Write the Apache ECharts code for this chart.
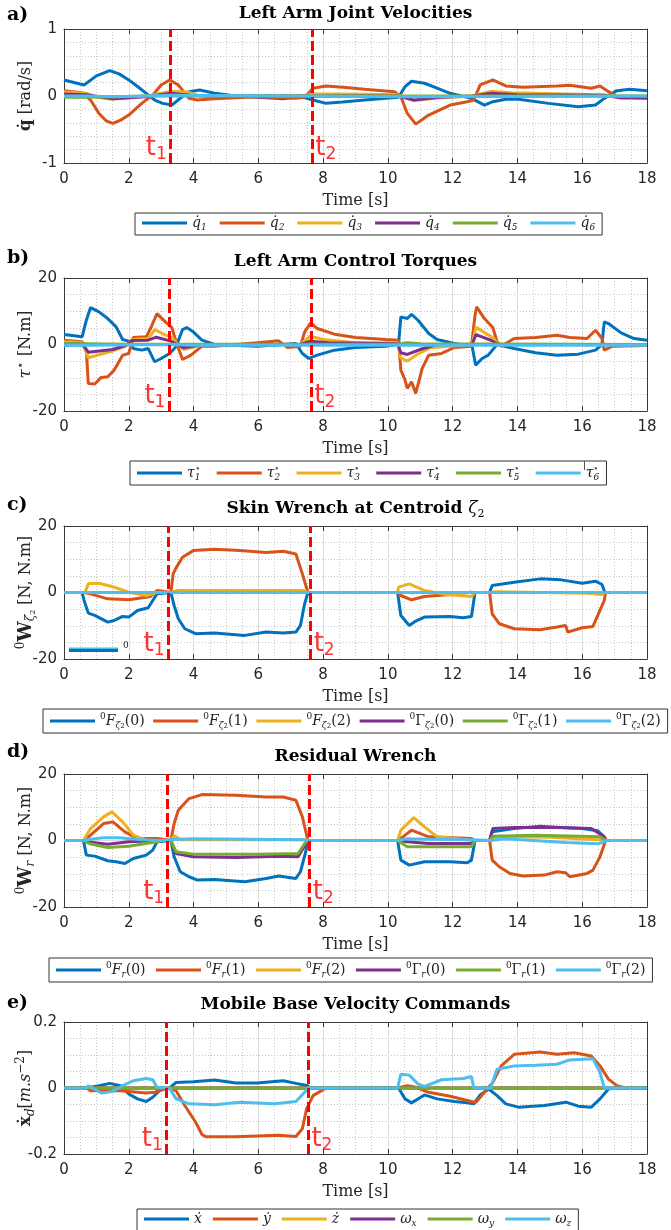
<!DOCTYPE html>
<html><head><meta charset="utf-8">
<script src="https://cdn.jsdelivr.net/npm/echarts@6/dist/echarts.min.js"></script>
<style>html,body{margin:0;padding:0;background:#fff}#c{width:671px;height:1230px}</style>
</head><body><div id="c"></div>
<script>
// ---------- tick labels ----------
const tTicks = [0,2,4,6,8,10,12,14,16,18];
const yTicksA = [-1,0,1];
const yTicksB = [-20,0,20];
const yTicksC = [-20,0,20];
const yTicksD = [-20,0,20];
const yTicksE = [-0.2,0,0.2];
// event times (t1, t2) per panel
const eventsA = [3.28,7.65];
const eventsB = [3.24,7.62];
const eventsC = [3.21,7.60];
const eventsD = [3.20,7.57];
const eventsE = [3.16,7.53];

// ---------- a) joint velocities [t, value] ----------
const aQ1 = [[0,0.24],[0.62,0.165],[1.0,0.3],[1.41,0.38],[1.7,0.33],[2.0,0.24],[2.3,0.13],[2.54,0.04],[2.8,-0.06],[3.05,-0.11],[3.33,-0.135],[3.6,-0.03],[3.86,0.065],[4.19,0.09],[4.65,0.04],[5.3,0],[5.97,-0.02],[6.77,-0.04],[7.3,-0.01],[7.69,-0.06],[8.09,-0.11],[8.6,-0.09],[9.28,-0.06],[10.33,-0.02],[10.53,0.14],[10.73,0.22],[11.13,0.19],[11.5,0.12],[11.92,0.04],[12.58,-0.035],[12.98,-0.135],[13.24,-0.085],[13.64,-0.05],[14.03,-0.05],[14.96,-0.11],[15.88,-0.16],[16.41,-0.135],[16.68,-0.035],[17.07,0.08],[17.47,0.1],[18,0.08]];
const aQ2 = [[0,0.08],[0.56,0.05],[0.82,-0.06],[1.08,-0.26],[1.3,-0.37],[1.51,-0.41],[1.75,-0.36],[2.0,-0.285],[2.4,-0.11],[2.74,0.015],[3.0,0.165],[3.26,0.24],[3.53,0.165],[3.86,-0.035],[4.12,-0.06],[4.65,-0.04],[5.97,-0.01],[7.16,-0.035],[7.43,-0.02],[7.69,0.115],[8.09,0.15],[8.62,0.13],[9.28,0.1],[10.2,0.065],[10.4,-0.01],[10.6,-0.26],[10.86,-0.42],[11.26,-0.285],[11.92,-0.135],[12.45,-0.085],[12.65,-0.06],[12.85,0.165],[13.24,0.24],[13.64,0.15],[14.17,0.13],[15.22,0.15],[15.62,0.16],[16.28,0.115],[16.55,0.15],[16.81,0.065],[17.07,-0.01],[18,-0.035]];
const aQ3 = [[0,0.06],[0.7,0.04],[1.0,-0.02],[1.5,-0.05],[2.0,-0.03],[2.7,0.01],[3.3,0.07],[3.8,0.06],[4.2,0.0],[7.3,0.0],[7.7,0.03],[8.5,0.03],[10.3,0.02],[10.8,-0.07],[11.5,-0.03],[12.6,0.0],[13.2,0.07],[13.8,0.05],[16.5,0.02],[17,0],[18,-0.01]];
const aQ4 = [[0,0.03],[0.7,0.02],[1.5,-0.04],[2.5,-0.01],[3.3,0.04],[3.9,0.01],[4.5,0],[10.3,0],[10.8,-0.06],[11.6,-0.02],[12.6,0],[13.2,0.04],[14,0.02],[16.7,0.01],[17.2,-0.03],[18,-0.03]];
const aQ5 = [[0,-0.02],[0.7,-0.02],[1.5,-0.01],[3,0],[18,0]];
const aQ6 = [[0,0],[0.7,0],[1.5,-0.01],[3.3,0.01],[10.8,-0.01],[18,0]];

// ---------- b) control torques ----------
const bT1 = [[0,3.0],[0.56,2.3],[0.69,7.3],[0.82,11.1],[1.08,9.8],[1.35,7.8],[1.61,5.3],[1.81,1.5],[2.0,1.0],[2.14,-1.2],[2.4,-1.7],[2.6,-1.2],[2.8,-5.2],[3.0,-4.2],[3.26,-2.7],[3.46,-0.7],[3.66,4.5],[3.79,5.1],[3.99,3.8],[4.26,1.3],[4.65,0],[5.97,-0.5],[7.16,0.3],[7.36,-2.7],[7.56,-4.2],[7.82,-3.2],[8.35,-1.7],[9.0,-0.9],[9.94,-0.5],[10.33,0.1],[10.4,8.3],[10.6,7.8],[10.73,9.1],[10.93,7.3],[11.26,3.3],[11.52,1.5],[12.05,0.3],[12.6,-0.5],[12.71,-6.2],[12.91,-4.2],[13.1,-3.2],[13.37,0],[13.9,-1.2],[14.56,-2.5],[15.22,-3.2],[15.88,-2.9],[16.41,-1.7],[16.61,0],[16.68,6.8],[16.81,6.3],[17.2,3.5],[17.6,1.8],[18,1.3]];
const bT2 = [[0,1.3],[0.56,0.8],[0.69,-1.7],[0.75,-11.7],[0.95,-11.9],[1.15,-9.9],[1.35,-9.7],[1.55,-7.7],[1.81,-3.2],[2.0,-2.7],[2.14,2.1],[2.54,2.3],[2.67,4.8],[2.87,9.3],[3.13,6.8],[3.33,5.1],[3.46,0.8],[3.66,-4.5],[3.92,-3.2],[4.26,-0.5],[4.65,-0.5],[5.97,0.5],[6.63,1.1],[6.9,-0.9],[7.3,-0.5],[7.43,3.8],[7.62,6.5],[7.82,4.8],[8.35,3.1],[9.0,2.1],[9.94,1.5],[10.33,1.3],[10.4,-7.7],[10.53,-10.7],[10.6,-13.2],[10.73,-11.2],[10.86,-14.7],[11.06,-7.2],[11.26,-3.2],[11.66,-2.7],[12.05,-0.9],[12.58,-0.5],[12.69,8.8],[12.74,11.3],[12.98,7.8],[13.24,5.1],[13.37,0.8],[13.5,-0.5],[13.9,1.8],[14.56,2.1],[15.22,2.8],[15.62,2.1],[16.15,1.8],[16.41,4.3],[16.61,1.8],[16.68,-1.7],[16.94,-0.5],[18,-0.3]];
const bT3 = [[0,0.8],[0.56,0.6],[0.75,-4.0],[1.1,-3.0],[1.5,-2.0],[1.9,-0.5],[2.1,1.5],[2.6,1.8],[2.8,4.5],[3.1,3.0],[3.35,2.0],[3.5,0],[3.7,-1.5],[4.3,0],[7.3,0],[7.6,2.5],[8,1.5],[9,0.5],[10.3,0.5],[10.4,-4],[10.6,-5],[10.9,-3],[11.3,-1],[12.6,0],[12.72,5.2],[13.0,3.5],[13.25,2],[13.4,0],[16.7,0],[18,0]];
const bT4 = [[0,0.2],[0.56,0.2],[0.75,-2.3],[1.5,-1.5],[1.9,-0.3],[2.1,1.2],[2.6,1.3],[2.85,2.2],[3.3,1.0],[3.5,0],[3.7,-1],[4.3,0],[7.3,0],[7.6,1.0],[8.2,0.5],[10.3,0.2],[10.4,-2.5],[10.6,-3],[11,-1.5],[11.5,0],[12.6,0],[12.72,3],[13.2,1.2],[13.4,0],[18,0]];
const bT5 = [[0,0.3],[2,0.1],[10.3,0.1],[10.6,0.5],[11,0.2],[18,0]];
const bT6 = [[0,-0.3],[3.3,0],[4,-0.2],[18,-0.2]];

// ---------- c) skin wrench ----------
const cF0 = [[0,0],[0.56,0],[0.62,-2.4],[0.75,-6.2],[0.95,-6.9],[1.35,-8.9],[1.55,-8.4],[1.81,-7.2],[2.0,-7.4],[2.27,-5.4],[2.6,-4.6],[2.74,-2.4],[2.87,-0.4],[2.93,0],[3.3,0],[3.4,-3.9],[3.53,-7.9],[3.73,-10.9],[4.06,-12.4],[4.65,-12.2],[5.58,-12.9],[6.24,-11.9],[6.77,-12.2],[7.16,-11.9],[7.3,-9.9],[7.43,-3.4],[7.53,0],[10.3,0],[10.4,-6.9],[10.66,-9.9],[10.86,-8.6],[11.13,-7.4],[11.92,-7.2],[12.32,-7.6],[12.58,-7.2],[12.69,0],[13.14,0],[13.22,2.1],[13.9,3.1],[14.7,4.1],[15.35,3.8],[16.0,2.8],[16.41,3.4],[16.61,2.4],[16.7,0],[18,0]];
const cF1 = [[0,0],[0.6,0],[0.82,-0.4],[1.35,-1.9],[2.0,-2.2],[2.67,-1.2],[2.87,0.6],[2.93,0],[3.3,0],[3.37,5.6],[3.46,7.4],[3.66,10.6],[3.99,12.6],[4.65,13.0],[5.44,12.6],[6.24,12.0],[6.77,12.4],[7.16,11.6],[7.36,5.6],[7.53,0],[10.3,0],[10.4,-0.9],[10.73,-2.2],[11.13,-1.2],[11.92,-0.6],[12.58,0.1],[12.69,0],[13.14,0],[13.22,-6.4],[13.44,-9.4],[13.9,-10.9],[14.7,-11.2],[15.22,-10.4],[15.49,-9.9],[15.55,-11.9],[16.0,-10.6],[16.33,-10.2],[16.48,-6.9],[16.68,-2.4],[16.72,0],[18,0]];
const cF2 = [[0,0],[0.65,0],[0.75,2.6],[1.08,2.8],[1.48,1.8],[2.0,0.1],[2.54,-0.9],[2.87,0],[3.3,0],[3.5,0.6],[7.4,0.6],[7.53,0],[10.3,0],[10.33,1.6],[10.66,2.6],[11.13,0.6],[11.79,-0.6],[12.58,-1.2],[12.69,0],[13.2,0],[13.3,0.2],[16.2,-0.2],[16.6,-0.6],[16.7,0],[18,0]];
const cG0 = [[0,0],[18,0]];
const cG1 = [[0,0],[18,0]];
const cG2 = [[0,0],[18,0]];

// ---------- d) residual wrench ----------
const dF0 = [[0,0],[0.6,0],[0.69,-4.4],[0.95,-4.7],[1.35,-6.1],[1.61,-6.4],[1.88,-6.9],[2.14,-5.4],[2.54,-4.4],[2.74,-2.9],[2.87,-0.4],[2.93,0],[3.3,0],[3.4,-4.9],[3.59,-9.4],[3.86,-10.9],[4.12,-11.9],[4.65,-11.7],[5.58,-12.4],[6.24,-11.4],[6.63,-10.7],[7.16,-11.4],[7.3,-9.4],[7.45,-3.9],[7.53,0],[10.3,0],[10.4,-5.9],[10.66,-7.4],[11.13,-6.4],[11.92,-6.4],[12.45,-6.7],[12.58,-5.9],[12.69,0],[13.14,0],[13.22,2.6],[13.9,3.6],[14.7,4.3],[15.35,3.9],[16.0,3.6],[16.48,2.9],[16.68,1.1],[16.74,0],[18,0]];
const dF1 = [[0,0],[0.6,0],[0.82,1.6],[1.22,5.1],[1.51,5.6],[1.88,2.6],[2.27,0.6],[2.87,0.6],[2.93,0],[3.3,0],[3.4,5.1],[3.53,9.1],[3.86,12.6],[4.26,13.8],[5.31,13.6],[6.24,13.1],[6.77,13.1],[7.16,12.1],[7.36,7.1],[7.53,0],[10.3,0],[10.53,1.6],[10.73,3.1],[11.26,1.1],[12.58,0.6],[12.69,0],[13.14,0],[13.22,-5.9],[13.44,-7.9],[13.77,-9.9],[14.17,-10.7],[14.83,-10.4],[15.22,-9.4],[15.49,-9.7],[15.62,-10.9],[16.15,-9.9],[16.33,-8.9],[16.55,-4.9],[16.72,0],[18,0]];
const dF2 = [[0,0],[0.6,0],[0.82,3.6],[1.22,7.1],[1.48,8.6],[1.81,5.6],[2.14,1.6],[2.54,0.1],[2.9,0],[3.3,0],[3.4,1.5],[3.46,2.0],[3.6,0.2],[7.4,0.2],[7.53,0],[10.3,0],[10.4,3.1],[10.8,6.9],[11.13,4.1],[11.52,1.1],[12.58,0.1],[12.69,0],[13.2,0],[13.3,1.2],[15,1.0],[16.5,0.2],[16.7,0],[18,0]];
const dG0 = [[0,0],[0.6,0],[0.69,-0.4],[1.35,-1.1],[2.0,-0.4],[2.87,0],[3.3,0],[3.46,-3.9],[3.99,-4.9],[5.31,-5.1],[6.63,-4.7],[7.23,-4.9],[7.4,-2],[7.53,0],[10.3,0],[10.6,-0.4],[11.26,-0.9],[12.58,-0.9],[12.69,0],[13.14,0],[13.24,3.6],[13.9,3.9],[15.22,3.9],[16.28,3.6],[16.68,1.1],[16.74,0],[18,0]];
const dG1 = [[0,0],[0.6,0],[0.8,-1.0],[1.35,-2.1],[2.0,-1.7],[2.87,-0.4],[3.0,0],[3.3,0],[3.46,-3.4],[3.99,-4.1],[5.97,-4.1],[7.23,-3.9],[7.43,-0.9],[7.53,0],[10.3,0],[10.6,-1.9],[12.58,-1.9],[12.69,0],[13.14,0],[13.24,1.3],[14.56,1.6],[16.55,1.1],[16.74,0],[18,0]];
const dG2 = [[0,0],[0.6,0.1],[1.2,0.8],[1.7,0.8],[2.3,0.3],[3.0,0],[3.4,0.3],[4,0.5],[7.4,0.2],[7.6,0],[10.3,0],[10.6,0.5],[11.2,0.4],[12.6,0.2],[13.2,0],[13.6,0.5],[14.5,0],[15.5,-0.6],[16.5,-1.0],[16.75,0],[18,0]];

// ---------- e) mobile base velocity commands ----------
const eXd = [[0,0],[0.7,0],[1.08,0.007],[1.41,0.014],[1.74,0.007],[2.0,-0.018],[2.27,-0.033],[2.54,-0.041],[2.74,-0.028],[3.0,-0.003],[3.26,0],[3.46,0.017],[3.99,0.019],[4.65,0.024],[5.31,0.015],[5.97,0.015],[6.77,0.022],[7.16,0.014],[7.53,0.007],[7.6,0],[10.33,0],[10.53,-0.033],[10.73,-0.045],[11.13,-0.021],[11.52,-0.033],[12.05,-0.041],[12.45,-0.045],[12.65,-0.048],[12.85,-0.021],[13.11,-0.003],[13.37,-0.023],[13.64,-0.048],[14.03,-0.058],[14.83,-0.053],[15.49,-0.043],[15.88,-0.055],[16.28,-0.058],[16.55,-0.033],[16.81,-0.003],[17,0],[18,0]];
const eYd = [[0,0],[0.7,0],[0.82,-0.008],[1.74,-0.008],[2.54,-0.015],[2.8,-0.013],[3.2,0],[3.46,-0.008],[3.73,-0.053],[4.06,-0.103],[4.26,-0.141],[4.39,-0.148],[5.31,-0.148],[6.63,-0.143],[7.16,-0.147],[7.36,-0.123],[7.49,-0.063],[7.69,-0.023],[8.09,0],[10.3,0],[10.6,0.007],[10.86,0.002],[11.26,-0.013],[11.92,-0.025],[12.58,-0.041],[12.72,-0.043],[12.98,-0.013],[13.24,0.017],[13.5,0.067],[13.9,0.102],[14.7,0.109],[15.22,0.102],[15.75,0.107],[16.28,0.097],[16.55,0.067],[16.81,0.027],[17.07,0.007],[17.34,0],[18,0]];
const eZd = [[0,0],[18,0]];
const eWx = [[0,0],[18,0]];
const eWy = [[0,0],[18,0]];
const eWz = [[0,0],[0.7,0],[0.75,0.007],[1.15,-0.015],[1.48,-0.011],[1.81,0.007],[2.14,0.022],[2.54,0.029],[2.74,0.025],[2.87,0.002],[3.26,0],[3.46,-0.033],[3.86,-0.048],[4.65,-0.051],[5.44,-0.043],[6.5,-0.048],[7.16,-0.041],[7.43,-0.013],[7.53,0],[10.3,0],[10.4,0.042],[10.66,0.039],[10.93,0.012],[11.13,0.005],[11.66,0.025],[12.32,0.029],[12.58,0.035],[12.65,0],[13.17,0],[13.37,0.057],[13.9,0.067],[14.56,0.069],[15.22,0.072],[15.62,0.085],[16.0,0.087],[16.33,0.089],[16.55,0.047],[16.68,0],[18,0]];

// ---------- legend labels (rich text) ----------
const legA = ['{i|q\u0307}{s|1}','{i|q\u0307}{s|2}','{i|q\u0307}{s|3}','{i|q\u0307}{s|4}','{i|q\u0307}{s|5}','{i|q\u0307}{s|6}'];
const legB = [1,2,3,4,5,6].map(k=>'{i|τ}{p0|⋆}{s|'+k+'}');
const legC = ['{p|0}{i|F}{s|ζ}{ss|2}{r|(0)}','{p|0}{i|F}{s|ζ}{ss|2}{r|(1)}','{p|0}{i|F}{s|ζ}{ss|2}{r|(2)}','{p|0}{r|Γ}{s|ζ}{ss|2}{r|(0)}','{p|0}{r|Γ}{s|ζ}{ss|2}{r|(1)}','{p|0}{r|Γ}{s|ζ}{ss|2}{r|(2)}'];
const legD = ['{p|0}{i|F}{s|r}{r|(0)}','{p|0}{i|F}{s|r}{r|(1)}','{p|0}{i|F}{s|r}{r|(2)}','{p|0}{r|Γ}{s|r}{r|(0)}','{p|0}{r|Γ}{s|r}{r|(1)}','{p|0}{r|Γ}{s|r}{r|(2)}'];
const legE = ['{i|ẋ}','{i|ẏ}','{i|ż}','{i|ω}{s|x}','{i|ω}{s|y}','{i|ω}{s|z}'];

const COLORS = ['#0072BD','#D95319','#EDB120','#7E2F8E','#77AC30','#4DBEEE'];
const AX = '#3a3a3a';
const SERIF = 'DejaVu Serif';

const panels = [
  {letter:'a)', title:'Left Arm Joint Velocities', yTicks:yTicksA, minor:5, data:[aQ1,aQ2,aQ3,aQ4,aQ5,aQ6], leg:legA, events:eventsA,
   yName:'{qb|q\u0307} {r|[rad/s]}', top:29, h:134, titleY:14, letterY:15, legLeft:135, legTop:213, legGap:13},
  {letter:'b)', title:'Left Arm Control Torques', yTicks:yTicksB, minor:4, data:[bT1,bT2,bT3,bT4,bT5,bT6], leg:legB, events:eventsB,
   yName:'{ti|τ}{np|⋆} {r|[N.m]}', top:278, h:133, titleY:262, letterY:258, legLeft:130, legTop:461, legGap:16},
  {letter:'c)', title:'Skin Wrench at Centroid ', titleSub:true, yTicks:yTicksC, minor:4, data:[cF0,cF1,cF2,cG0,cG1,cG2], leg:legC, events:eventsC,
   yName:'{np|0}{wb|W}{ns|ζ}{nss|2} {r|[N, N.m]}', top:526, h:133, titleY:509, letterY:505, legLeft:43, legTop:709, legGap:8.6},
  {letter:'d)', title:'Residual Wrench', yTicks:yTicksD, minor:4, data:[dF0,dF1,dF2,dG0,dG1,dG2], leg:legD, events:eventsD,
   yName:'{np|0}{wb|W}{ns|r} {r|[N, N.m]}', top:774, h:133, titleY:757, letterY:752, legLeft:49, legTop:958, legGap:10.4},
  {letter:'e)', title:'Mobile Base Velocity Commands', yTicks:yTicksE, minor:4, data:[eXd,eYd,eZd,eWx,eWy,eWz], leg:legE, events:eventsE,
   yName:'{qb|ẋ}{ns|d}{r|[}{ri|m}{r|.}{ri|s}{np|−2}{r|]}', top:1022, h:132, titleY:1005, letterY:1003, legLeft:137, legTop:1209, legGap:11}
];

const legRich = {
  i:{fontFamily:SERIF, fontStyle:'italic', fontSize:14, lineHeight:18, color:'#222'},
  r:{fontFamily:SERIF, fontSize:14, lineHeight:18, color:'#222'},
  s:{fontFamily:SERIF, fontStyle:'italic', fontSize:9, verticalAlign:'bottom', color:'#222'},
  ss:{fontFamily:SERIF, fontSize:7, verticalAlign:'bottom', color:'#222'},
  p:{fontFamily:SERIF, fontSize:9, verticalAlign:'top', color:'#222'},
  p0:{fontFamily:SERIF, fontSize:9, verticalAlign:'top', width:0, color:'#222'}
};
const nameRich = {
  qb:{fontFamily:SERIF, fontWeight:'bold', fontSize:17, lineHeight:22, color:'#262626'},
  ti:{fontFamily:SERIF, fontStyle:'italic', fontSize:17, lineHeight:22, color:'#262626'},
  wb:{fontFamily:SERIF, fontWeight:'bold', fontSize:18, lineHeight:22, color:'#262626'},
  r:{fontFamily:SERIF, fontSize:16, lineHeight:22, color:'#262626'},
  ri:{fontFamily:SERIF, fontStyle:'italic', fontSize:16, lineHeight:22, color:'#262626'},
  ns:{fontFamily:SERIF, fontStyle:'italic', fontSize:12, verticalAlign:'bottom', color:'#262626'},
  nss:{fontFamily:SERIF, fontSize:8, verticalAlign:'bottom', color:'#262626'},
  np:{fontFamily:SERIF, fontSize:12, verticalAlign:'top', color:'#262626'}
};
const tRich = {
  tt:{fontFamily:'DejaVu Sans', fontSize:26, lineHeight:30, color:'#ff0000'},
  tn:{fontFamily:'DejaVu Sans', fontSize:17, verticalAlign:'bottom', color:'#ff0000'}
};

const grid=[], xAxis=[], yAxis=[], series=[], legend=[], graphic=[];
const xMin=tTicks[0], xMax=tTicks[tTicks.length-1], xInt=tTicks[1]-tTicks[0];
const labelMap = {};

panels.forEach((p,i)=>{
  const yMin=p.yTicks[0], yMax=p.yTicks[p.yTicks.length-1], yInt=p.yTicks[1]-p.yTicks[0];
  grid.push({left:64, right:24, top:p.top, height:p.h, containLabel:false, outerBoundsMode:'none'});
  const common = {type:'value', gridIndex:i, axisLine:{show:true,onZero:false,lineStyle:{color:AX,width:1}},
    axisTick:{show:true,inside:true,length:5,lineStyle:{color:AX,width:1}}};
  xAxis.push(Object.assign({}, common, {position:'bottom', min:xMin, max:xMax, interval:xInt,
    axisLabel:{show:true, margin:9, color:'#262626', fontSize:15, fontFamily:'DejaVu Sans'},
    splitLine:{show:true, lineStyle:{color:'#dddddd', width:1}},
    minorTick:{show:false, splitNumber:4},
    minorSplitLine:{show:true, lineStyle:{color:'#c8c8c8', width:1, type:[1,2]}},
    name:'Time [s]', nameLocation:'middle', nameGap:30, nameMoveOverlap:false,
    nameTextStyle:{fontFamily:SERIF, fontSize:16, color:'#262626'}}));
  xAxis.push(Object.assign({}, common, {position:'top', min:xMin, max:xMax, interval:xInt,
    axisLabel:{show:false}, splitLine:{show:false}}));
  yAxis.push(Object.assign({}, common, {position:'left', min:yMin, max:yMax, interval:yInt,
    axisLabel:{show:true, margin:7, color:'#262626', fontSize:15, fontFamily:'DejaVu Sans'},
    splitLine:{show:true, lineStyle:{color:'#dddddd', width:1}},
    minorTick:{show:false, splitNumber:p.minor},
    minorSplitLine:{show:true, lineStyle:{color:'#c8c8c8', width:1, type:[1,2]}},
    name:p.yName, nameLocation:'middle', nameRotate:90, nameGap:27, nameMoveOverlap:false,
    nameTextStyle:{fontFamily:SERIF, fontSize:16, color:'#262626', rich:nameRich}}));
  yAxis.push(Object.assign({}, common, {position:'right', min:yMin, max:yMax, interval:yInt,
    axisLabel:{show:false}, splitLine:{show:false}}));

  const names=[];
  p.data.forEach((d,k)=>{
    const nm = 'p'+i+'s'+k;
    names.push(nm); labelMap[nm]=p.leg[k];
    series.push({type:'line', name:nm, xAxisIndex:2*i, yAxisIndex:2*i, data:d, showSymbol:false, symbol:'none',
      lineStyle:{color:COLORS[k], width:3}, itemStyle:{color:COLORS[k]}, color:COLORS[k], z:2, silent:true, clip:true});
  });
  const yl = yMin + 0.11*(yMax-yMin);
  series.push({type:'scatter', xAxisIndex:2*i, yAxisIndex:2*i, symbolSize:1, itemStyle:{color:'rgba(0,0,0,0)'}, z:6, silent:true,
    data:[{value:[p.events[0],yl], label:{position:'left'}},{value:[p.events[1],yl], label:{position:'right'}}],
    label:{show:true, distance:3, formatter:(pr)=>'{tt|t}{tn|'+(pr.dataIndex+1)+'}', rich:tRich},
    markLine:{silent:true, symbol:'none', label:{show:false}, animation:false,
      lineStyle:{color:'#ff0000', width:3, type:[10,4]},
      data:[{xAxis:p.events[0]},{xAxis:p.events[1]}]}});
  legend.push({data:names, left:p.legLeft, top:p.legTop, orient:'horizontal', icon:'rect', itemWidth:45, itemHeight:3,
    itemGap:p.legGap, padding:[3,7], borderColor:'#333', borderWidth:1, backgroundColor:'#fff', selectedMode:false,
    formatter:(n)=>labelMap[n], textStyle:{color:'#222', fontFamily:SERIF, fontSize:14, rich:legRich}});
  graphic.push({type:'text', z:100, x:7, y:p.letterY, style:{text:p.letter, font:'bold 19px "DejaVu Serif"', fill:'#000', verticalAlign:'middle'}});
  if (p.titleSub) {
    graphic.push({type:'text', z:100, x:355.5, y:p.titleY, style:{text:'{t|Skin Wrench at Centroid }{g|ζ}{g2|2}', align:'center', verticalAlign:'middle',
      rich:{t:{font:'bold 17px "DejaVu Serif"', fill:'#000', lineHeight:22}, g:{font:'italic 17px "DejaVu Serif"', fill:'#000'}, g2:{font:'11px "DejaVu Serif"', verticalAlign:'bottom', fill:'#000'}}}});
  } else {
    graphic.push({type:'text', z:100, x:355.5, y:p.titleY, style:{text:p.title, align:'center', verticalAlign:'middle', font:'bold 17px "DejaVu Serif"', fill:'#000'}});
  }
});
// stray legend fragment inside panel c and tick mark beside legend b (as in the source figure)
graphic.push({type:'line', z:100, shape:{x1:69,y1:650.5,x2:118,y2:650.5}, style:{stroke:COLORS[0], lineWidth:3}});
graphic.push({type:'line', z:100, shape:{x1:69,y1:648.3,x2:118,y2:648.3}, style:{stroke:COLORS[5], lineWidth:1.5}});
graphic.push({type:'text', z:100, x:123, y:646, style:{text:'0', font:'9px "DejaVu Serif"', fill:'#222', verticalAlign:'middle'}});
graphic.push({type:'line', z:100, shape:{x1:584.5,y1:461,x2:584.5,y2:470}, style:{stroke:'#555', lineWidth:1}});

const chart = echarts.init(document.getElementById('c'), null, {renderer:'canvas'});
chart.setOption({animation:false, backgroundColor:'#fff', grid, xAxis, yAxis, series, legend, graphic});
</script></body></html>
